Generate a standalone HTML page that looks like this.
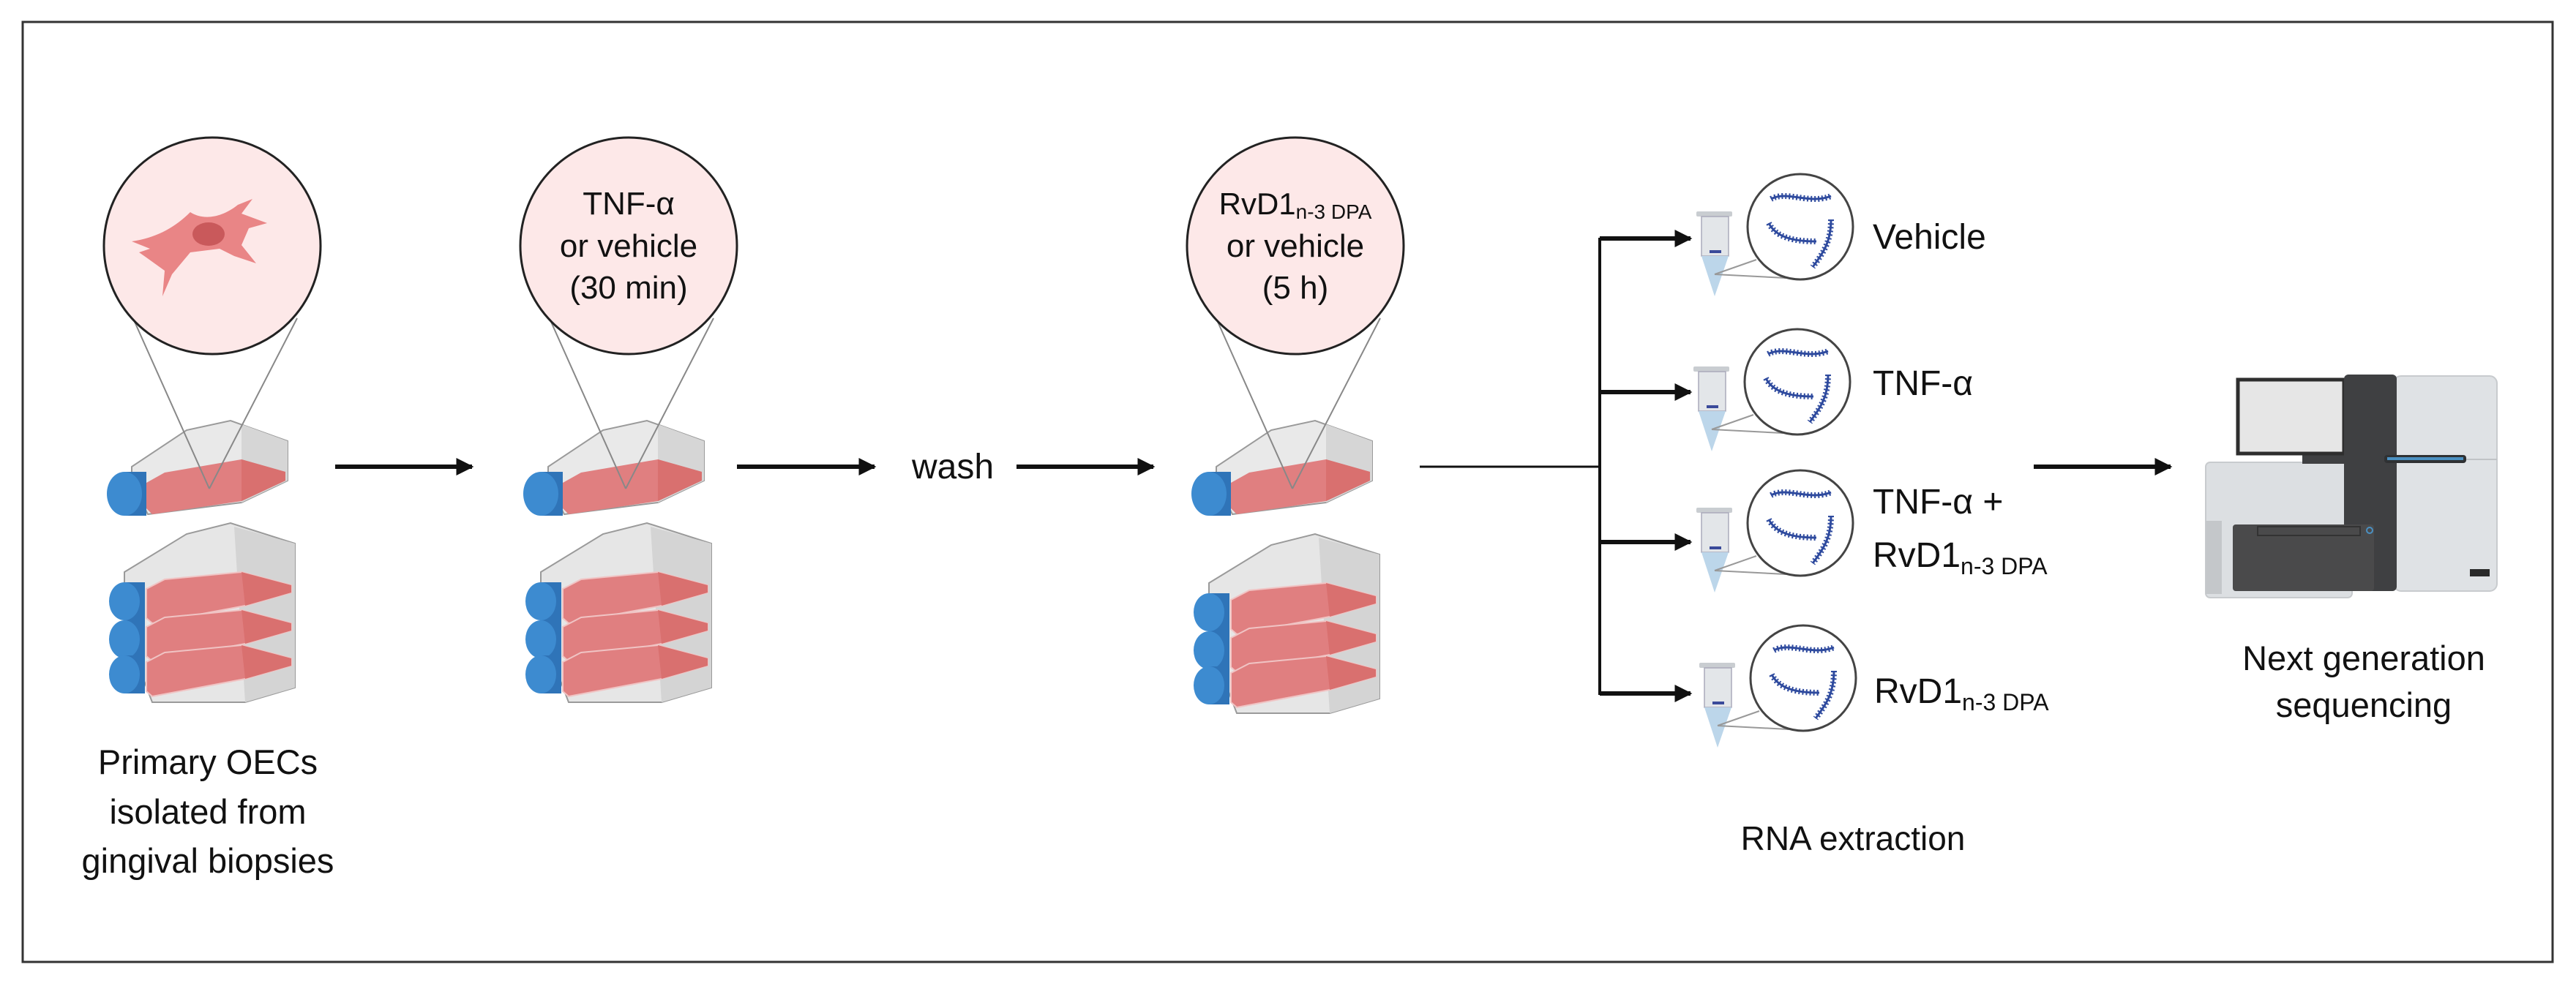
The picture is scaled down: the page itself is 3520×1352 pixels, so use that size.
<!DOCTYPE html>
<html><head><meta charset="utf-8"><style>
html,body{margin:0;padding:0;background:#fff}
svg{display:block}
text{font-family:"Liberation Sans",sans-serif;fill:#111}
</style></head><body>
<svg width="3520" height="1352" viewBox="0 0 3520 1352" xmlns="http://www.w3.org/2000/svg">
<defs>
<marker id="ah" viewBox="0 0 10 10" refX="9" refY="5" markerWidth="4" markerHeight="4" orient="auto" markerUnits="strokeWidth">
<path d="M0,0 L10,5 L0,10 z" fill="#111"/></marker>
<g id="single">
 <polygon points="50,78 125,28 185,15 263,43 263,97 200,127 72,143 50,100" fill="#e9e9e9" stroke="#9a9a9a" stroke-width="2"/>
 <polygon points="200,20 263,43 263,97 200,127" fill="#d6d6d6"/>
 <polygon points="70,100 95,86 200,68 260,85 260,97 200,125 78,143 70,135" fill="#e07f80"/>
 <polygon points="200,68 260,85 260,97 200,125" fill="#d9706f"/>
 <rect x="40" y="85" width="30" height="60" fill="#2f74b8"/>
 <ellipse cx="40" cy="115" rx="24" ry="30" fill="#3d8bd0"/>
</g>
<g id="layer">
 <polygon points="70,245 95,232 200,222 268,240 268,250 205,268 78,292 70,285" fill="#e07f80" stroke="#f0c4c4" stroke-width="2"/>
 <polygon points="200,222 268,240 268,250 205,268" fill="#d9706f"/>
 <rect x="40" y="236" width="28" height="52" fill="#2f74b8"/>
 <ellipse cx="40" cy="262" rx="21" ry="26" fill="#3d8bd0"/>
</g>
<g id="stack">
 <polygon points="40,222 125,170 185,155 273,183 273,380 205,400 78,400 40,300" fill="#e6e6e6" stroke="#9a9a9a" stroke-width="2"/>
 <polygon points="190,160 273,183 273,380 205,400" fill="#d4d4d4"/>
 <use href="#layer"/>
 <use href="#layer" transform="translate(0,52)"/>
 <use href="#layer" transform="translate(0,100)"/>
</g>
<g id="tube">
 <rect x="2318" y="289" width="49" height="7" rx="2" fill="#c9cdd1"/>
 <rect x="2325" y="296" width="37" height="54" fill="#e3e6e9" stroke="#aab" stroke-width="1.5"/>
 <polygon points="2325,350 2362,350 2343,405" fill="#bcd6ea"/>
 <rect x="2336" y="342" width="16" height="4" fill="#3a4a9a"/>
</g>
<g id="rna" fill="none" stroke="#2e4a9e" stroke-width="4" stroke-dasharray="2 3">
 <path d="M-42,-38 C-20,-50 10,-30 40,-42" stroke-width="8"/>
 <path d="M-45,-5 C-35,15 -10,20 20,20" stroke-width="8"/>
 <path d="M40,-10 C40,20 30,35 15,55" stroke-width="8"/>
</g>
<g id="rnas" fill="none" stroke="#2e4a9e" stroke-width="3">
 <path d="M-42,-38 C-20,-50 10,-30 40,-42"/>
 <path d="M-45,-5 C-35,15 -10,20 20,20"/>
 <path d="M40,-10 C40,20 30,35 15,55"/>
</g>
</defs>

<rect x="31" y="30" width="3457" height="1285" fill="none" stroke="#333" stroke-width="3"/>

<!-- Stage 1 -->
<g transform="translate(130,560)"><use href="#single"/><use href="#stack"/></g>
<line x1="180" y1="431" x2="286" y2="668" stroke="#888" stroke-width="2"/>
<line x1="406" y1="435" x2="286" y2="668" stroke="#888" stroke-width="2"/>
<circle cx="290" cy="336" r="148" fill="#fde8e8" stroke="#222" stroke-width="3"/>
<path d="M180,330 C215,325 240,310 260,290 C275,300 300,300 325,280 L345,272 L330,292 L365,305 L340,312 L330,335 L350,360 L320,350 L300,340 L260,345 L235,375 L222,405 L225,370 L200,352 L190,345 L205,340 Z" fill="#e98586"/>
<ellipse cx="285" cy="320" rx="22" ry="16" fill="#c9595b"/>
<text x="284" y="1058" font-size="47" text-anchor="middle">Primary OECs</text>
<text x="284" y="1126" font-size="47" text-anchor="middle">isolated from</text>
<text x="284" y="1193" font-size="47" text-anchor="middle">gingival biopsies</text>

<line x1="458" y1="638" x2="645" y2="638" stroke="#111" stroke-width="6" marker-end="url(#ah)"/>

<!-- Stage 2 -->
<g transform="translate(699,560)"><use href="#single"/><use href="#stack"/></g>
<line x1="749" y1="431" x2="855" y2="668" stroke="#888" stroke-width="2"/>
<line x1="975" y1="435" x2="855" y2="668" stroke="#888" stroke-width="2"/>
<circle cx="859" cy="336" r="148" fill="#fde8e8" stroke="#222" stroke-width="3"/>
<text x="859" y="293" font-size="44" text-anchor="middle">TNF-α</text>
<text x="859" y="351" font-size="44" text-anchor="middle">or vehicle</text>
<text x="859" y="408" font-size="44" text-anchor="middle">(30 min)</text>

<line x1="1007" y1="638" x2="1195" y2="638" stroke="#111" stroke-width="6" marker-end="url(#ah)"/>
<text x="1302" y="654" font-size="48" text-anchor="middle">wash</text>
<line x1="1389" y1="638" x2="1576" y2="638" stroke="#111" stroke-width="6" marker-end="url(#ah)"/>

<!-- Stage 3 -->
<g transform="translate(1612,560)"><use href="#single"/></g>
<g transform="translate(1612,575)"><use href="#stack"/></g>
<line x1="1660" y1="431" x2="1766" y2="668" stroke="#888" stroke-width="2"/>
<line x1="1886" y1="435" x2="1766" y2="668" stroke="#888" stroke-width="2"/>
<circle cx="1770" cy="336" r="148" fill="#fde8e8" stroke="#222" stroke-width="3"/>
<text x="1770" y="293" font-size="42" text-anchor="middle">RvD1<tspan font-size="28" dy="6">n-3 DPA</tspan></text>
<text x="1770" y="351" font-size="44" text-anchor="middle">or vehicle</text>
<text x="1770" y="408" font-size="44" text-anchor="middle">(5 h)</text>

<!-- Branching -->
<line x1="1940" y1="638" x2="2187" y2="638" stroke="#111" stroke-width="3"/>
<line x1="2186" y1="325" x2="2186" y2="950" stroke="#111" stroke-width="4"/>
<line x1="2186" y1="326" x2="2310" y2="326" stroke="#111" stroke-width="6" marker-end="url(#ah)"/>
<line x1="2186" y1="536" x2="2310" y2="536" stroke="#111" stroke-width="6" marker-end="url(#ah)"/>
<line x1="2186" y1="741" x2="2310" y2="741" stroke="#111" stroke-width="6" marker-end="url(#ah)"/>
<line x1="2186" y1="948" x2="2310" y2="948" stroke="#111" stroke-width="6" marker-end="url(#ah)"/>

<g>
 <use href="#tube"/>
 <line x1="2343" y1="375" x2="2400" y2="355" stroke="#999" stroke-width="2"/>
 <line x1="2343" y1="375" x2="2440" y2="380" stroke="#999" stroke-width="2"/>
 <circle cx="2460" cy="310" r="72" fill="#fff" stroke="#444" stroke-width="3"/>
 <g transform="translate(2462,310)"><use href="#rna"/><use href="#rnas"/></g>
</g>
<g transform="translate(-4,212)">
 <use href="#tube"/>
 <line x1="2343" y1="375" x2="2400" y2="355" stroke="#999" stroke-width="2"/>
 <line x1="2343" y1="375" x2="2440" y2="380" stroke="#999" stroke-width="2"/>
 <circle cx="2460" cy="310" r="72" fill="#fff" stroke="#444" stroke-width="3"/>
 <g transform="translate(2462,310)"><use href="#rna"/><use href="#rnas"/></g>
</g>
<g transform="translate(0,405)">
 <use href="#tube"/>
 <line x1="2343" y1="375" x2="2400" y2="355" stroke="#999" stroke-width="2"/>
 <line x1="2343" y1="375" x2="2440" y2="380" stroke="#999" stroke-width="2"/>
 <circle cx="2460" cy="310" r="72" fill="#fff" stroke="#444" stroke-width="3"/>
 <g transform="translate(2462,310)"><use href="#rna"/><use href="#rnas"/></g>
</g>
<g transform="translate(4,617)">
 <use href="#tube"/>
 <line x1="2343" y1="375" x2="2400" y2="355" stroke="#999" stroke-width="2"/>
 <line x1="2343" y1="375" x2="2440" y2="380" stroke="#999" stroke-width="2"/>
 <circle cx="2460" cy="310" r="72" fill="#fff" stroke="#444" stroke-width="3"/>
 <g transform="translate(2462,310)"><use href="#rna"/><use href="#rnas"/></g>
</g>

<text x="2559" y="340" font-size="48">Vehicle</text>
<text x="2559" y="540" font-size="48">TNF-α</text>
<text x="2559" y="702" font-size="48">TNF-α +</text>
<text x="2559" y="775" font-size="48">RvD1<tspan font-size="32" dy="10">n-3 DPA</tspan></text>
<text x="2561" y="961" font-size="48">RvD1<tspan font-size="32" dy="10">n-3 DPA</tspan></text>
<text x="2532" y="1162" font-size="46" text-anchor="middle">RNA extraction</text>

<line x1="2779" y1="638" x2="2966" y2="638" stroke="#111" stroke-width="6" marker-end="url(#ah)"/>

<!-- Sequencer -->
<g>
 <rect x="3014" y="632" width="200" height="185" rx="6" fill="#dcdfe2" stroke="#c8cbce" stroke-width="2"/>
 <rect x="3014" y="712" width="22" height="100" fill="#c4c7ca"/>
 <rect x="3146" y="618" width="68" height="16" fill="#3f4042"/>
 <rect x="3058" y="519" width="145" height="101" fill="#e6e6e6" stroke="#2e2e2e" stroke-width="5"/>
 <rect x="3271" y="514" width="141" height="294" rx="10" fill="#dfe2e5" stroke="#c8cbce" stroke-width="2"/>
 <line x1="3271" y1="628" x2="3412" y2="628" stroke="#c0c3c6" stroke-width="2"/>
 <rect x="3203" y="512" width="72" height="296" rx="6" fill="#3f4042"/>
 <rect x="3258" y="622" width="112" height="11" rx="4" fill="#2f3133"/>
 <rect x="3262" y="625" width="104" height="4" fill="#4a90c2"/>
 <rect x="3051" y="717" width="193" height="91" rx="4" fill="#4a4a4b"/>
 <rect x="3085" y="720" width="140" height="12" fill="none" stroke="#333" stroke-width="2"/>
 <circle cx="3238" cy="725" r="4" fill="none" stroke="#4a90c2" stroke-width="2"/>
 <rect x="3375" y="778" width="27" height="10" fill="#2a2a2a"/>
</g>
<text x="3230" y="916" font-size="47" text-anchor="middle">Next generation</text>
<text x="3230" y="980" font-size="47" text-anchor="middle">sequencing</text>
</svg>
</body></html>
